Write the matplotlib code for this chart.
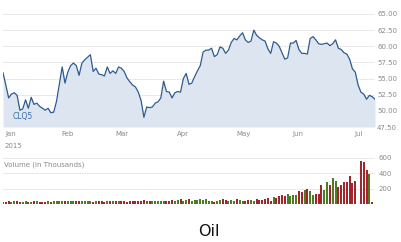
import numpy as np
import matplotlib
matplotlib.use('Agg')
import matplotlib.pyplot as plt
import matplotlib.transforms as mtransforms

plt.rcParams['font.family'] = ['Liberation Sans Narrow', 'DejaVu Sans']

# ---- data, one value per trading day, Jan 2 .. early Jul 2015
price = [55.9, 54.0, 52.0, 52.6, 52.8, 52.4, 50.1, 50.3, 51.7, 50.4,
         52.1, 51.0, 51.2, 50.7, 50.4, 50.1, 50.4, 49.7, 49.8, 51.5,
         54.1, 56.8, 54.3, 56.0, 57.0, 57.4, 57.0, 55.5, 57.4, 57.9,
         58.3, 58.7, 56.1, 56.6, 55.7, 55.6, 55.4, 56.8, 55.8, 56.2,
         55.8, 56.8, 56.6, 56.1, 55.1, 54.5, 54.0, 53.7, 52.9, 51.6,
         49.0, 50.6, 50.5, 50.6, 51.2, 51.4, 52.0, 54.6, 53.0, 52.9,
         52.0, 52.8, 53.0, 52.9, 55.0, 55.8, 54.1, 54.3, 55.3, 56.2,
         57.0, 59.1, 59.4, 59.4, 59.7, 58.4, 58.7, 59.9, 59.7, 58.9,
         59.4, 60.6, 61.2, 61.0, 61.6, 62.1, 61.0, 60.6, 60.8, 62.5,
         61.7, 61.3, 61.0, 60.8, 59.6, 58.9, 60.7, 60.5, 60.0, 59.0,
         58.0, 58.2, 60.5, 60.5, 60.9, 59.5, 58.9, 58.9, 58.8, 61.2,
         61.5, 61.0, 60.4, 60.3, 60.4, 60.5, 60.1, 60.4, 61.0, 59.7,
         59.5, 59.0, 58.8, 58.0, 56.5, 56.0, 54.0, 52.9, 52.6, 51.8,
         52.4, 52.2, 51.8]

volume = [30, 25, 45, 20, 35, 40, 30, 20, 45, 30, 25, 35, 40, 30, 25, 30, 35, 30, 40, 35,
          40, 45, 40, 35, 45, 40, 45, 35, 40, 45, 35, 40, 30, 35, 40, 45, 30, 35, 40,
          35, 40, 45, 40, 35, 30, 40, 45, 35, 40, 45, 50, 45, 40, 35, 40, 45, 40, 35, 40, 45, 50,
          40, 50, 60, 45, 55, 65, 45, 50, 55, 60, 50, 60, 45, 40, 30, 45, 50, 70, 55, 40, 50,
          45, 60, 50, 40, 45, 55, 50, 45, 60, 55, 50, 65, 75, 45,
          90, 80, 105, 110, 100, 125, 105, 110, 110, 165,
          150, 180, 200, 170, 110, 130, 130, 240, 180,
          290, 250, 330, 300, 225, 250, 280, 280, 360,
          270, 300, 0, 555, 540, 440, 390, 30, 0]

month_labels = ['Jan', 'Feb', 'Mar', 'Apr', 'May', 'Jun', 'Jul']
month_start = [0, 20, 39, 61, 82, 102, 124]   # index of first trading day
price_ticks = [47.5, 50.0, 52.5, 55.0, 57.5, 60.0, 62.5, 65.0]
vol_ticks = [200, 400, 600]

x = np.arange(len(price))
grid_kw = dict(color='#cccccc', lw=0.6, linestyle=(0, (1, 1)))
lab_col = '#8a8a8a'
fs = 5.0

fig = plt.figure(figsize=(4.02, 2.42), dpi=100)

# ---- price panel
ax = fig.add_axes([3/402, 1 - 127/242, 372/402, 113/242])
ax.fill_between(x, price, 47.5, color='#dde6f0', lw=0)
ax.plot(x, price, color='#2d5b91', lw=0.9)
for t in price_ticks:
    ax.axhline(t, zorder=0, **grid_kw)
ax.set_xlim(0, len(price) - 1)
ax.set_ylim(47.5, 65.0)
ax.yaxis.tick_right()
ax.set_yticks(price_ticks)
ax.set_yticklabels(['%.2f' % t for t in price_ticks])
ax.set_xticks(month_start)
ax.set_xticklabels(month_labels, ha='left')
ax.tick_params(axis='both', length=0, labelsize=fs, labelcolor=lab_col)
ax.tick_params(axis='y', pad=1.5)
ax.tick_params(axis='x', pad=3)
offset = mtransforms.ScaledTranslation(2/100, 0, fig.dpi_scale_trans)
for xl in ax.get_xticklabels():
    xl.set_transform(xl.get_transform() + offset)
for s in ax.spines.values():
    s.set_visible(False)
ax.text(0, -0.165, '2015', transform=ax.get_xaxis_transform() + offset,
        fontsize=fs, color=lab_col, ha='left', va='center')
ax.text(0.025, 0.09, 'CLQ5', transform=ax.transAxes, fontsize=5.5,
        color='#3b6ea8', ha='left', va='center')

# ---- volume panel
av = fig.add_axes([3/402, 1 - 204/242, 372/402, 46.5/242])
cols = ['#4d7d22' if i == 0 or price[i] >= price[i - 1] else '#a1262b'
        for i in range(len(price))]
av.bar(x, volume, width=0.7, color=cols, lw=0)
for t in vol_ticks:
    av.axhline(t, zorder=0, **grid_kw)
av.set_xlim(0, len(price) - 1)
av.set_ylim(0, 600)
av.yaxis.tick_right()
av.set_yticks(vol_ticks)
av.set_xticks([])
av.tick_params(axis='both', length=0, labelsize=fs, labelcolor=lab_col, pad=2.5)
for s in av.spines.values():
    s.set_visible(False)
av.text(0.003, 0.84, 'Volume (in Thousands)', transform=av.transAxes,
        fontsize=fs, color=lab_col, ha='left', va='center')

fig.text(209/402, 1 - 232/242, 'Oil', fontsize=11.5, family='DejaVu Sans',
         ha='center', va='center', color='#111111')

fig.savefig('out.png', dpi=100)
